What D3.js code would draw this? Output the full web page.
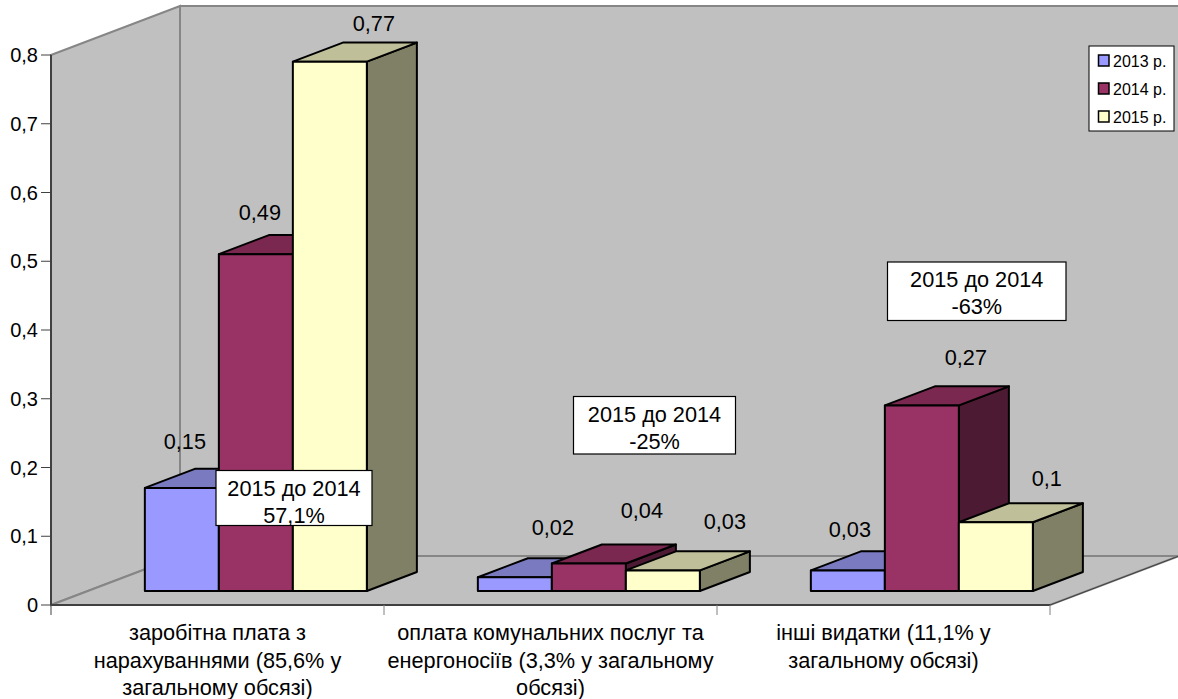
<!DOCTYPE html>
<html>
<head>
<meta charset="utf-8">
<script src="https://cdn.jsdelivr.net/npm/d3@7"></script>
<style>
  html, body { margin: 0; background: #fff; }
  svg { display: block; }
  text { font-family: "Liberation Sans", Arial, sans-serif; fill: #000; }
</style>
</head>
<body>
<svg id="chart" width="1178" height="699"></svg>
<script>
const categories = [
  ["заробітна плата з", "нарахуваннями (85,6% у", "загальному обсязі)"],
  ["оплата комунальних послуг та", "енергоносіїв (3,3% у загальному", "обсязі)"],
  ["інші видатки (11,1% у", "загальному обсязі)"]
];
const years = ["2013 р.", "2014 р.", "2015 р."];
const values2013 = [0.15, 0.02, 0.03];
const values2014 = [0.49, 0.04, 0.27];
const values2015 = [0.77, 0.03, 0.1];
const yTicks = [0, 0.1, 0.2, 0.3, 0.4, 0.5, 0.6, 0.7, 0.8];
const notes = [
  ["2015 до 2014", "57,1%"],
  ["2015 до 2014", "-25%"],
  ["2015 до 2014", "-63%"]
];

const series = [values2013, values2014, values2015];
const comma = d => String(d).replace(".", ",");

// colours per series: front, top, side
const fills = [
  ["#9999ff", "#7a7ac0", "#5c5c99"],
  ["#993366", "#7a284f", "#4d1a33"],
  ["#ffffcc", "#bfbf99", "#808066"]
];

// the labels were dragged by hand in the original, so offsets are per bar
const labelNudge = [
  [[3, -47], [4, -42], [44, -39]],
  [[38, -50], [53, -54], [62, -49]],
  [[2, -41], [44, -48], [51, -44]]
];
const noteBoxes = [
  { x: 216, y: 470.5, w: 156, h: 55 },
  { x: 573.5, y: 396.5, w: 162, h: 57.5 },
  { x: 887.5, y: 262, w: 178.5, h: 58.5 }
];

const fontSize = 21.7;

const svg = d3.select("#chart");

const x0 = 51, x1 = 1050, y0 = 605, y1 = 55;
const depth = { x: 129, y: -49 };

const x = d3.scaleBand().domain(d3.range(categories.length)).range([x0, x1]);
const y = d3.scaleLinear().domain([0, 0.8]).range([y0, y1]);
// z: 0 at the front of the floor, 1 at the back wall
const px = (a, d) => a + d * depth.x;
const py = (b, d) => b + d * depth.y;

const barInner = d3.scaleBand().domain(d3.range(3)).range([57, 57 + 222]);
const zFront = 0.2857, zBack = 0.6735;

const poly = pts => pts.map(p => p.join(",")).join(" ");

// walls and floor
const wall = svg.append("g").attr("stroke", "#868686").attr("stroke-width", 2).attr("fill", "#c0c0c0");
wall.append("polygon").attr("points", poly([[x0, y1], [px(x0, 1), py(y1, 1)], [px(x0, 1), py(y0, 1)], [x0, y0]]));
wall.append("polygon").attr("points", poly([[px(x0, 1), py(y1, 1)], [px(x1, 1), py(y1, 1)], [px(x1, 1), py(y0, 1)], [px(x0, 1), py(y0, 1)]]));
wall.append("polygon").attr("points", poly([[x0, y0], [px(x0, 1), py(y0, 1)], [px(x1, 1), py(y0, 1)], [x1, y0]]));

// axes
const axisColor = "#404040";
svg.append("line").attr("x1", x0).attr("x2", x0).attr("y1", y1).attr("y2", y0).attr("stroke", axisColor).attr("stroke-width", 2);
svg.append("line").attr("x1", x0).attr("x2", x1).attr("y1", y0).attr("y2", y0).attr("stroke", axisColor).attr("stroke-width", 2);
svg.append("line").attr("x1", x1).attr("x2", px(x1, 1)).attr("y1", y0).attr("y2", py(y0, 1)).attr("stroke", axisColor).attr("stroke-width", 1);

yTicks.forEach(t => {
  svg.append("line").attr("x1", x0 - 10).attr("x2", x0).attr("y1", y(t)).attr("y2", y(t)).attr("stroke", axisColor).attr("stroke-width", 1);
  svg.append("text").attr("x", 38).attr("y", y(t) + 7).attr("text-anchor", "end").attr("font-size", 20).text(comma(t));
});
d3.range(categories.length + 1).forEach(i => {
  const tx = i === categories.length ? x1 : x(i);
  svg.append("line").attr("x1", tx).attr("x2", tx).attr("y1", y0).attr("y2", y0 + 10).attr("stroke", i ? "#808080" : axisColor).attr("stroke-width", 1);
});

categories.forEach((lines, i) => {
  const label = svg.append("text").attr("text-anchor", "middle").attr("font-size", fontSize);
  lines.forEach((line, k) => {
    label.append("tspan").attr("x", x(i) + x.bandwidth() / 2).attr("y", 640 + k * 27.5).text(line);
  });
});

// bars, back to front within a category
categories.forEach((_, i) => {
  series.forEach((vals, s) => {
    const left = x(i) + barInner(s) + zFront * depth.x;
    const right = left + barInner.bandwidth();
    const base = py(y0, zFront);
    const top = base - (y0 - y(vals[i]));
    const dx = (zBack - zFront) * depth.x, dy = (zBack - zFront) * depth.y;
    const g = svg.append("g").attr("stroke", "#000").attr("stroke-width", 2).attr("stroke-linejoin", "round");
    g.append("polygon").attr("fill", fills[s][2]).attr("points", poly([[right, top], [right + dx, top + dy], [right + dx, base + dy], [right, base]]));
    g.append("polygon").attr("fill", fills[s][1]).attr("points", poly([[left, top], [left + dx, top + dy], [right + dx, top + dy], [right, top]]));
    g.append("rect").attr("fill", fills[s][0]).attr("x", left).attr("y", top).attr("width", right - left).attr("height", base - top);
  });
});

// value labels go above the bars
categories.forEach((_, i) => {
  series.forEach((vals, s) => {
    const left = x(i) + barInner(s) + zFront * depth.x;
    const base = py(y0, zFront);
    const top = base - (y0 - y(vals[i]));
    const [nx, ny] = labelNudge[i][s];
    svg.append("text").attr("x", left + barInner.bandwidth() / 2 + nx).attr("y", top + ny + 8)
      .attr("text-anchor", "middle").attr("font-size", fontSize).text(comma(vals[i]));
  });
});

// comparison notes
notes.forEach((lines, i) => {
  const b = noteBoxes[i];
  svg.append("rect").attr("x", b.x).attr("y", b.y).attr("width", b.w).attr("height", b.h)
    .attr("fill", "#fff").attr("stroke", "#000").attr("stroke-width", 1.2);
  lines.forEach((line, k) => {
    svg.append("text").attr("x", b.x + b.w / 2).attr("y", b.y + 25 + k * 27)
      .attr("text-anchor", "middle").attr("font-size", fontSize).text(line);
  });
});

// legend
const legend = svg.append("g").attr("transform", "translate(1089,46)");
legend.append("rect").attr("width", 85).attr("height", 85).attr("fill", "#fff").attr("stroke", "#000").attr("stroke-width", 1);
years.forEach((yr, s) => {
  legend.append("rect").attr("x", 9.5).attr("y", 9 + s * 28).attr("width", 10.5).attr("height", 11)
    .attr("fill", fills[s][0]).attr("stroke", "#000").attr("stroke-width", 1.5);
  legend.append("text").attr("x", 24).attr("y", 21.3 + s * 28).attr("font-size", 16).text(yr);
});
</script>
</body>
</html>
